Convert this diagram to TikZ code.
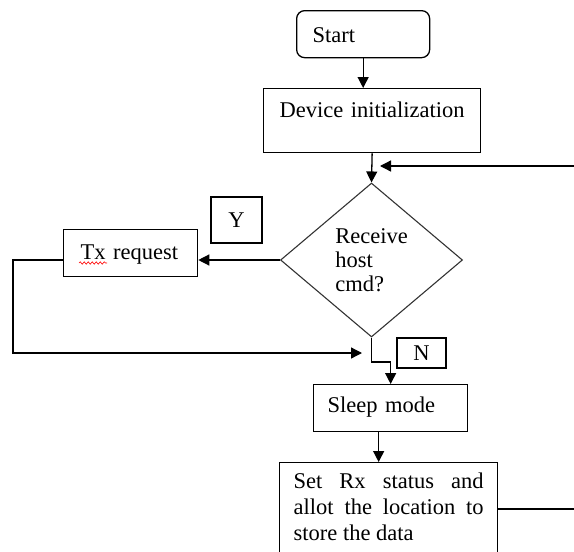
\documentclass[tikz,border=0pt]{standalone}
\usepackage{fontspec}
\setmainfont{Liberation Serif}
\usetikzlibrary{shapes.geometric,arrows.meta,decorations.pathmorphing}

\begin{document}
\begin{tikzpicture}[x=1pt,y=-1pt,
        font=\fontsize{22.5}{24}\selectfont,
        box/.style={draw,line width=1.3pt,inner ysep=0pt,anchor=north west},
        tag/.style={draw,line width=1.3pt,inner sep=0pt},
        flow/.style={line width=1.3pt,-{Triangle[length=11pt,width=11pt]}},
        link/.style={line width=1.3pt}]
        \path[use as bounding box,clip] (0,0) rectangle (574,552);
        \node[box,rounded corners=8pt,inner xsep=16pt,text width=101pt,align=left,text height=32pt,text depth=15pt] (start) at (296,10) {Start};
        \node[box,inner xsep=0pt,text width=217pt,align=center,text height=29pt,text depth=35pt] (dev) at (263,88) {Device initialization};
        \node[draw=black!80,line width=1.1pt,diamond,inner sep=0pt,minimum width=182pt,minimum height=154pt,align=left] (ask) at (371.5,260) {Receive\\host\\cmd?};
        \node[box,inner xsep=17pt,text width=100pt,align=left,text height=30pt,text depth=17pt] (tx) at (63,229) {Tx request};
        \node[tag,minimum width=51pt,minimum height=46pt] (yes) at (236.5,220) {Y};
        \node[tag,minimum width=49pt,minimum height=30pt] (no) at (421.5,353) {N};
        \node[box,inner xsep=14pt,text width=126pt,align=left,text height=28pt,text depth=19pt] (sleep) at (313,384) {Sleep mode};
        \node[box,inner xsep=14pt,inner ysep=10.5pt,text width=190pt,align=justify,text depth=75pt,font=\fontsize{22.5}{26}\selectfont] (setrx) at (279,462) {Set Rx status and\linebreak allot the location to\linebreak store the data};
        \draw[red,line width=0.6pt,decorate,decoration={snake,amplitude=1.2pt,segment length=4pt}] (79,263) -- (107,263);
        \coordinate (back) at (574,166);
        \coordinate (join) at (380,166);
        \coordinate (merge) at (362,353);
        \coordinate (bend) at (371.5,362);
        \coordinate (out) at (574,509);
        \draw[flow] (start.south) -- (start.south |- dev.north);
        \draw[flow] (dev.south) -- (ask.north);
        \draw[flow] (back) -- (join);
        \draw[flow] (ask.west) -- (ask.west -| tx.east);
        \draw[flow] (tx.west |- ask.west) -- ++(-50,0) |- (merge);
        \draw[flow] (ask.south) -- (bend) -| (sleep.north);
        \draw[flow] ([xshift=-12pt]sleep.south) -- ([xshift=-12pt]sleep.south |- setrx.north);
        \draw[link] (setrx.east |- out) -- (out);
    \end{tikzpicture}
\end{document}
